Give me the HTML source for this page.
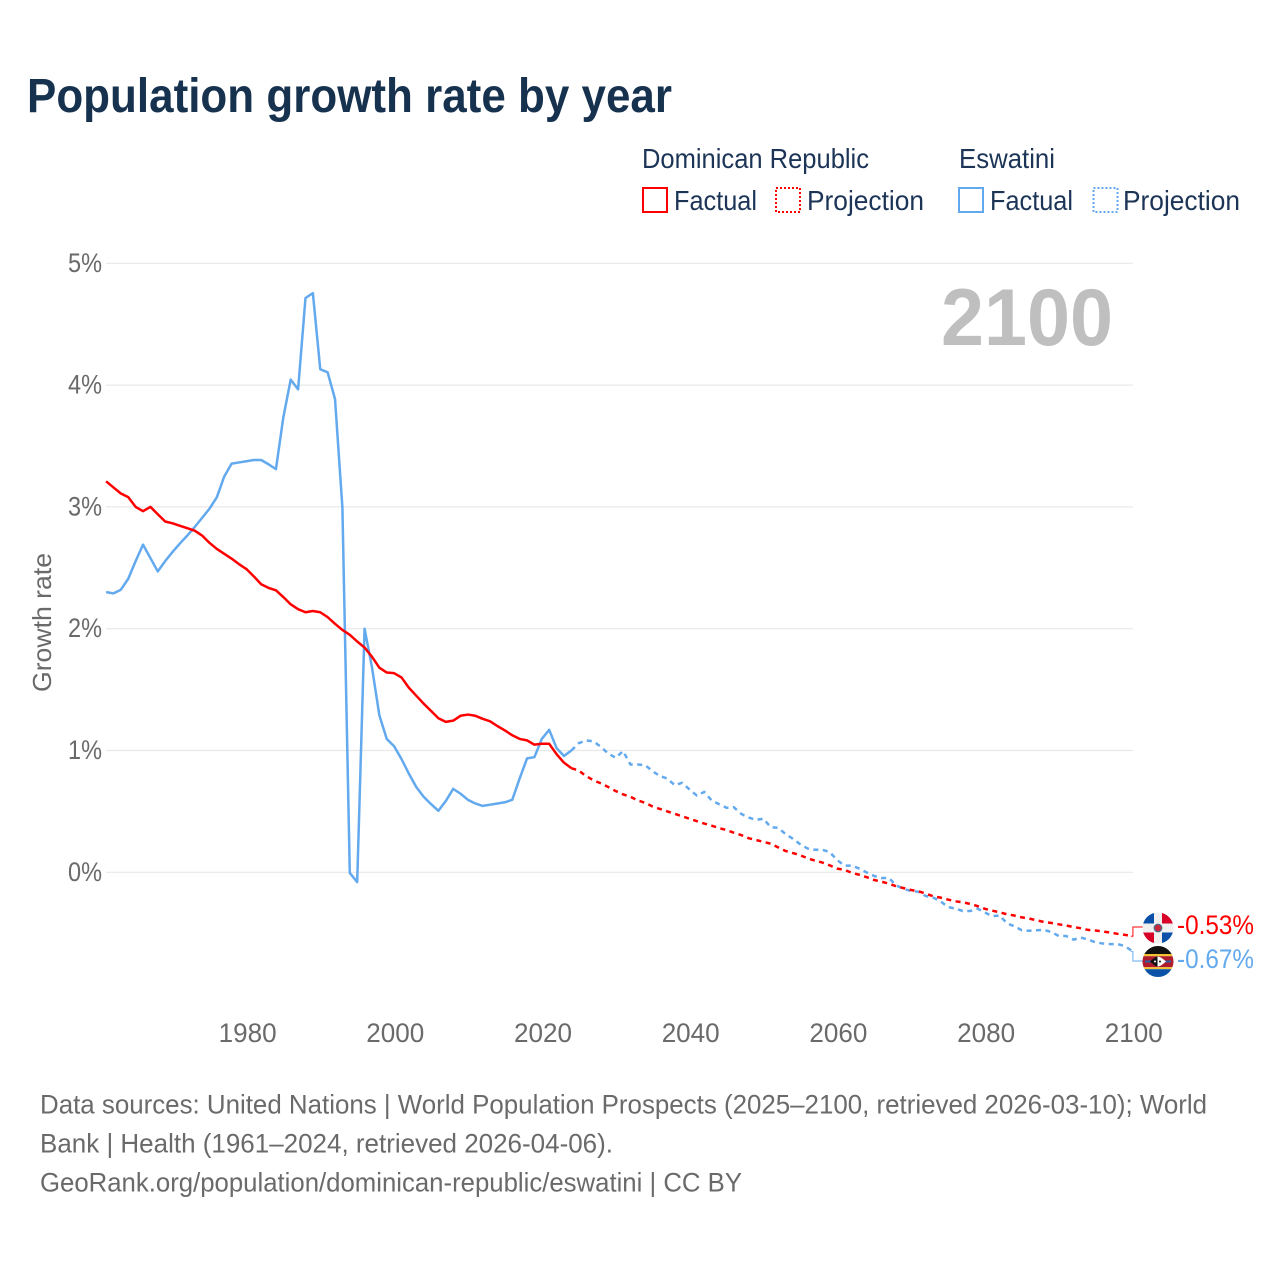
<!DOCTYPE html>
<html lang="en">
<head>
<meta charset="utf-8">
<title>Population growth rate by year</title>
<style>
html,body{margin:0;padding:0;background:#fff;}
svg{display:block;}
text{font-family:"Liberation Sans",sans-serif;}
</style>
</head>
<body>
<svg id="chart" xmlns="http://www.w3.org/2000/svg" width="1280" height="1280" viewBox="0 0 1280 1280">
  <rect width="1280" height="1280" fill="#ffffff"/>
  <text x="27" y="112" font-size="48" font-weight="700" fill="#17324f" textLength="645" lengthAdjust="spacingAndGlyphs">Population growth rate by year</text>

  <g font-size="28" fill="#1c3557">
    <text x="642" y="168" textLength="227" lengthAdjust="spacingAndGlyphs">Dominican Republic</text>
    <text x="959" y="168" textLength="96" lengthAdjust="spacingAndGlyphs">Eswatini</text>
    <rect x="643" y="188" width="24" height="24" fill="none" stroke="#ff0000" stroke-width="2"/>
    <text x="674" y="210" textLength="83" lengthAdjust="spacingAndGlyphs">Factual</text>
    <rect x="776" y="188" width="24" height="24" fill="none" stroke="#ff0000" stroke-width="2" stroke-dasharray="2 2"/>
    <text x="807" y="210" textLength="117" lengthAdjust="spacingAndGlyphs">Projection</text>
    <rect x="959" y="188" width="24" height="24" fill="none" stroke="#63a9ee" stroke-width="2"/>
    <text x="990" y="210" textLength="83" lengthAdjust="spacingAndGlyphs">Factual</text>
    <rect x="1093.5" y="188" width="24" height="24" fill="none" stroke="#63a9ee" stroke-width="2" stroke-dasharray="2 2"/>
    <text x="1123" y="210" textLength="117" lengthAdjust="spacingAndGlyphs">Projection</text>
  </g>

  <g id="grid"></g>
  <g id="yticks"></g>
  <g id="xticks"></g>
  <text transform="translate(51,622.5) rotate(-90)" text-anchor="middle" font-size="26" fill="#6a6a6a" textLength="139" lengthAdjust="spacingAndGlyphs">Growth rate</text>
  <text x="941" y="345" font-size="81" font-weight="700" fill="#bfbfbf" textLength="172" lengthAdjust="spacingAndGlyphs">2100</text>

  <g id="series"></g>

  <g>
    <clipPath id="clip-dr"><circle cx="1158" cy="928" r="15.5"/></clipPath>
    <g clip-path="url(#clip-dr)">
      <rect x="1142" y="912" width="32" height="33" fill="#f0f0f0"/>
      <rect x="1142" y="912" width="12" height="11.5" fill="#0a4fa8"/>
      <rect x="1162" y="912" width="12" height="11.5" fill="#d80027"/>
      <rect x="1142" y="932.5" width="12" height="12" fill="#d80027"/>
      <rect x="1162" y="932.5" width="12" height="12" fill="#0a4fa8"/>
      <circle cx="1158" cy="928" r="3.8" fill="#c8283c" stroke="#4a6a8a" stroke-width="1.2"/>
    </g>
  </g>
  <g>
    <clipPath id="clip-sz"><circle cx="1158" cy="961.5" r="15.5"/></clipPath>
    <g clip-path="url(#clip-sz)">
      <rect x="1142" y="945" width="32" height="9" fill="#111111"/>
      <rect x="1142" y="954" width="32" height="2.2" fill="#f2c230"/>
      <rect x="1142" y="956.2" width="32" height="11" fill="#b01c2e"/>
      <rect x="1142" y="967.2" width="32" height="2" fill="#f2c230"/>
      <rect x="1142" y="969.2" width="32" height="9" fill="#0a52a8"/>
      <rect x="1145" y="960.5" width="26" height="2" fill="#2a62a8"/>
      <path d="M1150 961.5 Q1156 956 1157.5 956.5 L1157.5 966.5 Q1156 967 1150 961.5Z" fill="#111111"/>
      <path d="M1166 961.5 Q1160 956 1157.5 956.5 L1157.5 966.5 Q1160 967 1166 961.5Z" fill="#ffffff"/>
      <circle cx="1155" cy="961.5" r="1" fill="#ffffff"/>
      <circle cx="1160" cy="961.5" r="1" fill="#111111"/>
    </g>
  </g>
  <text x="1177" y="934" font-size="26.5" fill="#ff0000" textLength="77" lengthAdjust="spacingAndGlyphs">-0.53%</text>
  <text x="1177" y="968" font-size="26.5" fill="#63a9ee" textLength="77" lengthAdjust="spacingAndGlyphs">-0.67%</text>

  <g font-size="27" fill="#6a6a6a">
    <text x="40" y="1113.5" textLength="1167" lengthAdjust="spacingAndGlyphs">Data sources: United Nations | World Population Prospects (2025–2100, retrieved 2026-03-10); World</text>
    <text x="40" y="1152.5" textLength="573" lengthAdjust="spacingAndGlyphs">Bank | Health (1961–2024, retrieved 2026-04-06).</text>
    <text x="40" y="1191.5" textLength="702" lengthAdjust="spacingAndGlyphs">GeoRank.org/population/dominican-republic/eswatini | CC BY</text>
  </g>
</svg>
<script>
const yTickValues = [0, 1, 2, 3, 4, 5];
const xTickYears = [1980, 2000, 2020, 2040, 2060, 2080, 2100];
const factualStartYear = 1961;
const projectionStartYear = 2024;

const drFactual = [3.21,3.16,3.11,3.08,3.00,2.965,3.00,2.94,2.88,2.865,2.845,2.825,2.805,2.765,2.705,2.655,2.615,2.575,2.53,2.49,2.43,2.365,2.335,2.315,2.26,2.20,2.16,2.135,2.145,2.135,2.095,2.04,1.99,1.95,1.895,1.845,1.77,1.68,1.64,1.635,1.60,1.515,1.45,1.385,1.325,1.265,1.235,1.245,1.285,1.295,1.285,1.26,1.24,1.20,1.165,1.125,1.095,1.083,1.048,1.055,1.055,0.97,0.90,0.855];

const drProjection = [0.855,0.835,0.79,0.755,0.73,0.70,0.667,0.64,0.62,0.59,0.57,0.54,0.52,0.50,0.48,0.46,0.44,0.42,0.40,0.383,0.363,0.347,0.325,0.306,0.28,0.265,0.25,0.235,0.205,0.175,0.158,0.14,0.115,0.096,0.08,0.057,0.03,0.02,-0.005,-0.02,-0.04,-0.063,-0.077,-0.093,-0.115,-0.13,-0.145,-0.156,-0.175,-0.197,-0.208,-0.224,-0.238,-0.246,-0.26,-0.277,-0.30,-0.315,-0.328,-0.345,-0.355,-0.37,-0.38,-0.394,-0.408,-0.416,-0.427,-0.437,-0.449,-0.46,-0.473,-0.478,-0.487,-0.495,-0.506,-0.514,-0.525];

const szFactual = [2.30,2.29,2.32,2.41,2.555,2.69,2.58,2.47,2.555,2.63,2.70,2.765,2.835,2.91,2.985,3.08,3.25,3.355,3.365,3.375,3.385,3.385,3.35,3.31,3.735,4.045,3.965,4.715,4.755,4.13,4.105,3.885,2.995,-0.005,-0.08,2.00,1.685,1.29,1.095,1.035,0.93,0.81,0.70,0.62,0.56,0.505,0.585,0.685,0.645,0.595,0.565,0.545,0.555,0.565,0.575,0.595,0.77,0.935,0.945,1.095,1.17,1.02,0.955,1.00];

const szProjection = [1.00,1.06,1.083,1.075,1.03,0.975,0.94,0.995,0.885,0.885,0.88,0.83,0.79,0.77,0.715,0.735,0.68,0.63,0.66,0.59,0.56,0.53,0.535,0.48,0.45,0.43,0.44,0.37,0.365,0.315,0.275,0.23,0.195,0.185,0.185,0.165,0.10,0.055,0.055,0.03,-0.002,-0.03,-0.047,-0.047,-0.107,-0.137,-0.153,-0.16,-0.195,-0.208,-0.238,-0.285,-0.298,-0.318,-0.318,-0.298,-0.33,-0.36,-0.355,-0.42,-0.443,-0.476,-0.48,-0.476,-0.473,-0.49,-0.523,-0.523,-0.553,-0.536,-0.553,-0.575,-0.585,-0.59,-0.59,-0.607,-0.65];

const SVG_NS = 'http://www.w3.org/2000/svg';
function xScale(year) { return 246.4 + (year - 1980) * 7.385; }
function yScale(pct) { return 872.3 - pct * 121.8; }

function make(tag, parent) {
  const el = document.createElementNS(SVG_NS, tag);
  parent.appendChild(el);
  return el;
}

const gridGroup = document.getElementById('grid');
const yGroup = document.getElementById('yticks');
const xGroup = document.getElementById('xticks');
const seriesGroup = document.getElementById('series');

yTickValues.forEach(function (v) {
  const line = make('line', gridGroup);
  
  
  line.setAttribute('x1', 106);
  line.setAttribute('x2', 1133);
  line.setAttribute('y1', yScale(v));
  line.setAttribute('y2', yScale(v));
  line.setAttribute('stroke', '#e8e8e8');
  line.setAttribute('stroke-width', 1.2);

  const label = make('text', yGroup);
  
  
  label.setAttribute('x', 102);
  label.setAttribute('y', yScale(v) + 8.5);
  label.setAttribute('text-anchor', 'end');
  label.setAttribute('font-size', 27);
  label.setAttribute('fill', '#6a6a6a');
  label.setAttribute('textLength', 34);
  label.setAttribute('lengthAdjust', 'spacingAndGlyphs');
  label.textContent = v + '%';
});

xTickYears.forEach(function (year) {
  const label = make('text', xGroup);
  
  
  label.setAttribute('x', xScale(year) + 1.2);
  label.setAttribute('y', 1042);
  label.setAttribute('text-anchor', 'middle');
  label.setAttribute('font-size', 27);
  label.setAttribute('fill', '#6a6a6a');
  label.setAttribute('textLength', 58);
  label.setAttribute('lengthAdjust', 'spacingAndGlyphs');
  label.textContent = year;
});

function pathFrom(values, startYear) {
  return values.map(function (v, i) {
    return (i ? 'L' : 'M') + xScale(startYear + i).toFixed(2) + ' ' + yScale(v).toFixed(2);
  }).join(' ');
}

function drawSeries(values, startYear, color, dashed, name) {
  const p = make('path', seriesGroup);
  
  
  p.setAttribute('d', pathFrom(values, startYear));
  p.setAttribute('fill', 'none');
  p.setAttribute('stroke', color);
  p.setAttribute('stroke-width', 2.5);
  p.setAttribute('stroke-linejoin', 'round');
  if (dashed) p.setAttribute('stroke-dasharray', '5 4.5');
}

function drawConnector(lastValue, flagY, color, name) {
  const x0 = xScale(2100) + 0.3;
  const c = make('path', seriesGroup);
  
  
  c.setAttribute('d', 'M' + (x0 - 2) + ' ' + yScale(lastValue).toFixed(1) + ' L' + x0 + ' ' + yScale(lastValue).toFixed(1) + ' L' + x0 + ' ' + flagY + ' L1146 ' + flagY);
  c.setAttribute('fill', 'none');
  c.setAttribute('stroke', color);
  c.setAttribute('stroke-width', 1.2);
  c.setAttribute('opacity', 0.8);
}

drawSeries(szProjection, projectionStartYear, '#63a9ee', true, 'line-eswatini-projection');
drawSeries(drProjection, projectionStartYear, '#ff0000', true, 'line-dominican-republic-projection');
drawSeries(szFactual, factualStartYear, '#63a9ee', false, 'line-eswatini-factual');
drawSeries(drFactual, factualStartYear, '#ff0000', false, 'line-dominican-republic-factual');
drawConnector(drProjection[drProjection.length - 1], 927, '#ff0000', 'connector-dominican-republic');
drawConnector(szProjection[szProjection.length - 1], 961, '#63a9ee', 'connector-eswatini');
</script>
</body>
</html>
